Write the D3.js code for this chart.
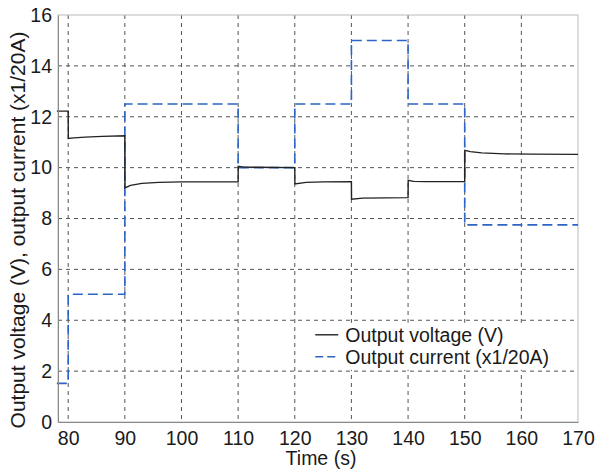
<!DOCTYPE html>
<html lang="en">
<head>
<meta charset="UTF-8">
<title>Output voltage and current</title>
<script src="https://d3js.org/d3.v7.min.js"></script>
<style>
    body { margin: 0; background: #fff; }
    svg { font-family: "Liberation Sans", Arial, sans-serif; }
    .grid line { stroke: #555; stroke-width: 1; stroke-dasharray: 4,4; }
</style>
</head>
<body>
<svg></svg>
<script>
// time points and values
const voltTime = [78, 80, 80.02, 81, 83, 86, 90, 90.02, 91, 93, 96, 100, 110, 110.02, 111, 120, 120.02, 122, 125, 130,
                  130.02, 132, 140, 140.02, 141, 143, 150, 150.02, 151, 153, 157, 162, 170];
const voltage  = [12.22, 12.22, 11.15, 11.17, 11.2, 11.23, 11.25, 9.2, 9.3, 9.38, 9.42, 9.44, 9.44, 10.05, 10.02, 10.0, 9.36, 9.42, 9.44, 9.45,
                  8.76, 8.8, 8.82, 9.5, 9.46, 9.45, 9.45, 10.68, 10.63, 10.58, 10.54, 10.53, 10.52];
const currTime = [78, 80, 80, 90, 90, 110, 110, 120, 120, 130, 130, 140, 140, 150, 150, 170];
const current  = [1.52, 1.52, 5.02, 5.02, 12.5, 12.5, 10.0, 10.0, 12.5, 12.5, 15.0, 15.0, 12.5, 12.5, 7.75, 7.75];
const xTicks = [80, 90, 100, 110, 120, 130, 140, 150, 160, 170];
const yTicks = [0, 2, 4, 6, 8, 10, 12, 14, 16];
const legendLabels = ["Output voltage (V)", "Output current (x1/20A)"];

const W = 598, H = 471;
const margin = {top: 15, right: 20, bottom: 49, left: 58};
const width = W - margin.left - margin.right,
      height = H - margin.top - margin.bottom;

const svg = d3.select("svg").attr("width", W).attr("height", H);
const g = svg.append("g").attr("transform", `translate(${margin.left},${margin.top})`);

const x = d3.scaleLinear().domain([78.2, 170]).range([0, width]);
const y = d3.scaleLinear().domain([0, 16]).range([height, 0]);

// grid
g.append("g").attr("class", "grid")
  .selectAll("line").data(xTicks.slice(0, -1)).join("line")
    .attr("x1", d => x(d)).attr("x2", d => x(d))
    .attr("y1", 0).attr("y2", height);
g.append("g").attr("class", "grid")
  .selectAll("line").data(yTicks.slice(1, -1)).join("line")
    .attr("x1", 0).attr("x2", width)
    .attr("y1", d => y(d)).attr("y2", d => y(d));

// box
g.append("rect").attr("width", width).attr("height", height)
  .attr("fill", "none").attr("stroke", "#bbb").attr("stroke-width", 1);

const line = d3.line().x(d => x(d[0])).y(d => y(d[1]));

g.append("path")
  .datum(currTime.map((t, i) => [t, current[i]]))
  .attr("d", line).attr("fill", "none")
  .attr("stroke", "#2e64c8").attr("stroke-width", 1.6)
  .attr("stroke-dasharray", "10,5");

g.append("path")
  .datum(voltTime.map((t, i) => [t, voltage[i]]))
  .attr("d", line).attr("fill", "none")
  .attr("stroke", "#222").attr("stroke-width", 1.4);

// axes
const xAxis = g.append("g").attr("transform", `translate(0,${height})`)
  .call(d3.axisBottom(x).tickValues(xTicks).tickSize(0).tickPadding(9));
const yAxis = g.append("g")
  .call(d3.axisLeft(y).tickValues(yTicks).tickSize(0).tickPadding(6));
[xAxis, yAxis].forEach(a => {
  a.select(".domain").attr("stroke", "#888");
  a.selectAll("text").attr("font-size", 19.5).attr("fill", "#1a1a1a")
    .attr("font-family", "Liberation Sans, Arial, sans-serif");
});

svg.append("text")
  .attr("x", margin.left + width / 2 + 3).attr("y", 465)
  .attr("text-anchor", "middle").attr("font-size", 19.5).attr("fill", "#1a1a1a")
  .text("Time (s)");
svg.append("text")
  .attr("transform", `translate(25,230) rotate(-90)`)
  .attr("text-anchor", "middle").attr("font-size", 21).attr("fill", "#1a1a1a")
  .text("Output voltage (V), output current (x1/20A)");

// legend
const lg = g.append("g").attr("transform", `translate(${x(121.5)},${y(3.9)})`);
lg.append("rect").attr("width", x(170) - x(121.5) - 1).attr("height", y(2.05) - y(3.9))
  .attr("fill", "#fff");
const items = lg.selectAll(".item").data(legendLabels).join("g")
  .attr("transform", (d, i) => `translate(0,${12 + i * 22})`);
items.append("line")
  .attr("x1", 12).attr("x2", 35).attr("y1", 0).attr("y2", 0)
  .attr("stroke", (d, i) => i ? "#2e64c8" : "#222")
  .attr("stroke-width", 1.4)
  .attr("stroke-dasharray", (d, i) => i ? "8,4" : null);
items.append("text")
  .attr("x", 42).attr("y", 7).attr("font-size", 19.5).attr("fill", "#1a1a1a")
  .text(d => d);
</script>
</body>
</html>
